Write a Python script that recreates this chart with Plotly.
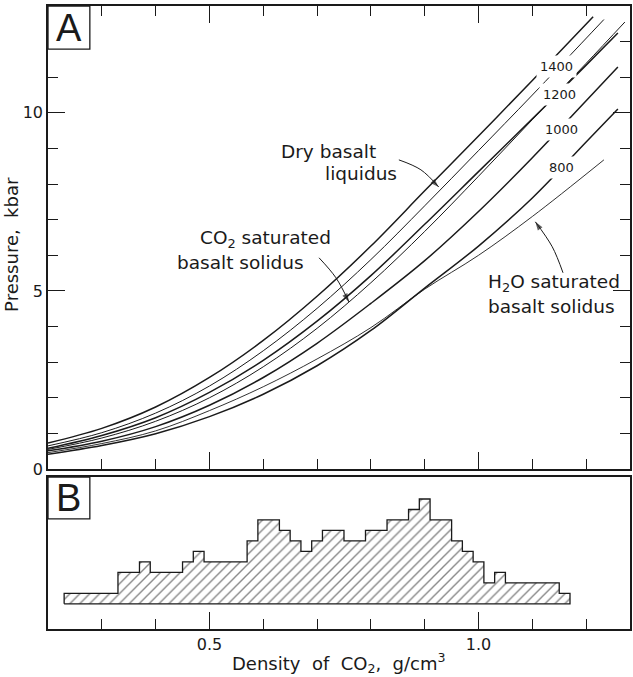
import plotly.graph_objects as go

# ---------------- Panel A: curves (density of CO2, g/cm3 -> pressure, kbar)
rho_1400 = [0.2, 0.3, 0.4, 0.5, 0.6, 0.7, 0.8, 0.9, 1.0, 1.1, 1.213]
p_1400 = [0.73, 1.14, 1.74, 2.57, 3.61, 4.85, 6.26, 7.81, 9.35, 10.91, 12.70]

rho_liq = [0.2, 0.3, 0.4, 0.5, 0.6, 0.7, 0.8, 0.9, 1.0, 1.1, 1.233]
p_liq = [0.65, 1.02, 1.57, 2.33, 3.32, 4.51, 5.88, 7.39, 8.94, 10.50, 12.62]

rho_1200 = [0.2, 0.3, 0.4, 0.5, 0.6, 0.7, 0.8, 0.9, 1.0, 1.1, 1.2, 1.259]
p_1200 = [0.58, 0.94, 1.44, 2.15, 3.05, 4.15, 5.43, 6.87, 8.35, 9.83, 11.34, 12.24]

rho_sol = [0.2, 0.3, 0.4, 0.5, 0.6, 0.7, 0.8, 0.9, 1.0, 1.1, 1.2, 1.272]
p_sol = [0.55, 0.87, 1.34, 2.00, 2.87, 3.95, 5.23, 6.67, 8.22, 9.81, 11.39, 12.55]

rho_1000 = [0.2, 0.3, 0.4, 0.5, 0.6, 0.7, 0.8, 0.9, 1.0, 1.1, 1.2, 1.259]
p_1000 = [0.51, 0.78, 1.19, 1.79, 2.57, 3.53, 4.65, 5.85, 7.23, 8.74, 10.34, 11.29]

rho_800 = [0.2, 0.3, 0.4, 0.5, 0.6, 0.7, 0.8, 0.9, 1.0, 1.1, 1.2, 1.259]
p_800 = [0.415, 0.66, 0.99, 1.47, 2.10, 2.90, 3.89, 5.08, 6.26, 7.61, 9.18, 10.11]

rho_h2o = [0.2, 0.3, 0.4, 0.5, 0.6, 0.7, 0.8, 0.9, 1.0, 1.1, 1.233]
p_h2o = [0.46, 0.715, 1.07, 1.64, 2.31, 3.09, 3.97, 5.05, 6.00, 7.09, 8.68]

isotherm_labels = ["1400", "1200", "1000", "800"]
isotherm_label_rho = [1.1444, 1.150, 1.1537, 1.1537]
isotherm_label_p = [11.29, 10.51, 9.52, 8.46]

# arrows (tail, bend, tip) for the curve labels
arrow_liq_rho = [0.852, 0.893, 0.926]
arrow_liq_p = [8.68, 8.40, 7.92]
arrow_co2_rho = [0.7037, 0.735, 0.7593]
arrow_co2_p = [5.93, 5.37, 4.69]
arrow_h2o_rho = [1.157, 1.137, 1.1056]
arrow_h2o_p = [5.51, 6.24, 6.94]

# ---------------- Panel B: histogram (bin edges every 0.02 g/cm3)
bin_start = 0.23
bin_width = 0.02
counts = [1, 1, 1, 1, 1,        # 0.23-0.33
          3, 3,                 # 0.33-0.37
          4,                    # 0.37-0.39
          3, 3, 3,              # 0.39-0.45
          4, 5,                 # 0.45-0.49
          4, 4, 4, 4,           # 0.49-0.57
          6, 8, 8, 7, 6, 5, 6,  # 0.57-0.71
          7, 7, 6, 6, 7, 7,     # 0.71-0.83
          8, 8, 9, 10, 8, 8,    # 0.83-0.95
          6, 5, 4, 2, 3,        # 0.95-1.05
          2, 2, 2, 2, 2,        # 1.05-1.15
          1]                    # 1.15-1.17

FONT = "DejaVu Sans"
INK = "#1a1a1a"
NB = "\u00a0"

fig = go.Figure()

curves = [
    (rho_1400, p_1400, 1.5),
    (rho_liq, p_liq, 1.0),
    (rho_1200, p_1200, 1.5),
    (rho_sol, p_sol, 1.0),
    (rho_1000, p_1000, 1.5),
    (rho_800, p_800, 1.5),
    (rho_h2o, p_h2o, 0.9),
]
for xs, ys, w in curves:
    fig.add_trace(go.Scatter(x=xs, y=ys, mode="lines",
                             line=dict(color=INK, width=w, shape="spline", smoothing=1.0),
                             xaxis="x", yaxis="y", hoverinfo="skip", showlegend=False))

# histogram outline polygon built from the counts
hx = [bin_start]
hy = [0]
for i, c in enumerate(counts):
    e0 = bin_start + i * bin_width
    e1 = e0 + bin_width
    hx += [e0, e1]
    hy += [c, c]
hx += [bin_start + len(counts) * bin_width, bin_start]
hy += [0, 0]
fig.add_trace(go.Scatter(x=hx, y=hy, mode="lines", fill="toself",
                         fillcolor="white",
                         fillpattern=dict(shape="/", fgcolor="#111111", bgcolor="white",
                                          size=7, solidity=0.2),
                         line=dict(color=INK, width=1.3),
                         xaxis="x2", yaxis="y2", hoverinfo="skip", showlegend=False))

xrange = [0.2, 1.2815]
common_x = dict(range=xrange, showline=True, linecolor=INK, linewidth=1.5,
                ticks="inside", tick0=0, dtick=0.5, ticklen=17, tickwidth=1.2, tickcolor=INK,
                minor=dict(dtick=0.1, tick0=0, ticklen=10, tickwidth=1.2, tickcolor=INK, ticks="inside"),
                showgrid=False, zeroline=False)

fig.update_layout(
    width=633, height=677,
    margin=dict(l=48, r=1, t=6, b=48),
    paper_bgcolor="white", plot_bgcolor="white",
    font=dict(family=FONT, color=INK, size=16),
    xaxis=dict(domain=[0, 1], anchor="y", mirror="allticks", showticklabels=False, **common_x),
    yaxis=dict(domain=[0.2568, 1], anchor="x", range=[0, 13], showline=True, linecolor=INK,
               linewidth=1.5, mirror="allticks", ticks="inside", tick0=0, dtick=5, ticklen=17,
               tickwidth=1.2, tickcolor=INK,
               minor=dict(dtick=1, tick0=0, ticklen=10, tickwidth=1.2, tickcolor=INK, ticks="inside"),
               showgrid=False, zeroline=False, tickfont=dict(size=16, family=FONT)),
    xaxis2=dict(domain=[0, 1], anchor="y2", mirror=True, showticklabels=True,
                tickformat=".1f", tickfont=dict(size=16, family=FONT), **common_x),
    yaxis2=dict(domain=[0, 0.244], anchor="x2", range=[-2.4, 12.1], showline=True, linecolor=INK,
                linewidth=1.5, mirror=True, ticks="", showticklabels=False,
                showgrid=False, zeroline=False),
)

# arrows as line + arrowhead markers
for xs, ys in [(arrow_liq_rho, arrow_liq_p), (arrow_co2_rho, arrow_co2_p), (arrow_h2o_rho, arrow_h2o_p)]:
    fig.add_trace(go.Scatter(x=xs, y=ys, mode="lines+markers",
                             line=dict(color=INK, width=1, shape="spline"),
                             marker=dict(symbol="arrow", angleref="previous", size=[0, 0, 9],
                                         color=INK, line=dict(width=0)),
                             xaxis="x", yaxis="y", hoverinfo="skip", showlegend=False))

# Panel letter boxes
fig.add_shape(type="rect", xref="x domain", yref="y domain", x0=0, x1=0.0719, y0=0.907, y1=1,
              line=dict(color=INK, width=1.3), fillcolor="white")
fig.add_shape(type="rect", xref="x2 domain", yref="y2 domain", x0=0, x1=0.0719, y0=0.724, y1=1,
              line=dict(color=INK, width=1.3), fillcolor="white")
fig.add_annotation(xref="x domain", yref="y domain", x=0.036, y=0.9535, text="A",
                   xanchor="center", yanchor="middle",
                   showarrow=False, font=dict(size=38, family="Liberation Sans", color=INK))
fig.add_annotation(xref="x2 domain", yref="y2 domain", x=0.036, y=0.862, text="B",
                   xanchor="center", yanchor="middle",
                   showarrow=False, font=dict(size=38, family="Liberation Sans", color=INK))

# Isotherm labels (white background breaks the lines)
for t, xv, yv in zip(isotherm_labels, isotherm_label_rho, isotherm_label_p):
    fig.add_annotation(x=xv, y=yv, xref="x", yref="y", text=t, showarrow=False,
                       xanchor="center", yanchor="middle",
                       bgcolor="white", borderpad=3, font=dict(size=13, family=FONT, color=INK))

lab = dict(size=18.5, family=FONT, color=INK)
fig.add_annotation(x=0.6296, y=8.92, xref="x", yref="y", text="Dry basalt", showarrow=False,
                   xanchor="left", yanchor="middle", font=lab)
fig.add_annotation(x=0.8519, y=8.30, xref="x", yref="y", text="liquidus", showarrow=False,
                   xanchor="right", yanchor="middle", font=lab)
fig.add_annotation(x=0.4778, y=6.47, xref="x", yref="y", text="CO<sub>2</sub> saturated",
                   showarrow=False, xanchor="left", yanchor="middle", font=lab)
fig.add_annotation(x=0.4352, y=5.80, xref="x", yref="y", text="basalt solidus",
                   showarrow=False, xanchor="left", yanchor="middle", font=lab)
fig.add_annotation(x=1.0148, y=5.22, xref="x", yref="y", text="H<sub>2</sub>O saturated",
                   showarrow=False, xanchor="left", yanchor="middle", font=lab)
fig.add_annotation(x=1.0148, y=4.55, xref="x", yref="y", text="basalt solidus",
                   showarrow=False, xanchor="left", yanchor="middle", font=lab)

# Axis titles
fig.add_annotation(xref="paper", yref="paper", x=0.5, y=-0.055, xanchor="center", yanchor="middle",
                   text="Density" + NB + " of" + NB + " CO<sub>2</sub>," + NB + " g/cm<sup>3</sup>",
                   showarrow=False, font=dict(size=18, family=FONT, color=INK))
fig.add_annotation(xref="paper", yref="y domain", x=-0.062, y=0.486, xanchor="center", yanchor="middle",
                   text="Pressure," + NB + " kbar", textangle=-90, showarrow=False,
                   font=dict(size=18, family=FONT, color=INK))

fig.write_html("out.html", config={"displayModeBar": False},
               post_script="document.body.style.margin='0';document.body.style.overflow='hidden';")
